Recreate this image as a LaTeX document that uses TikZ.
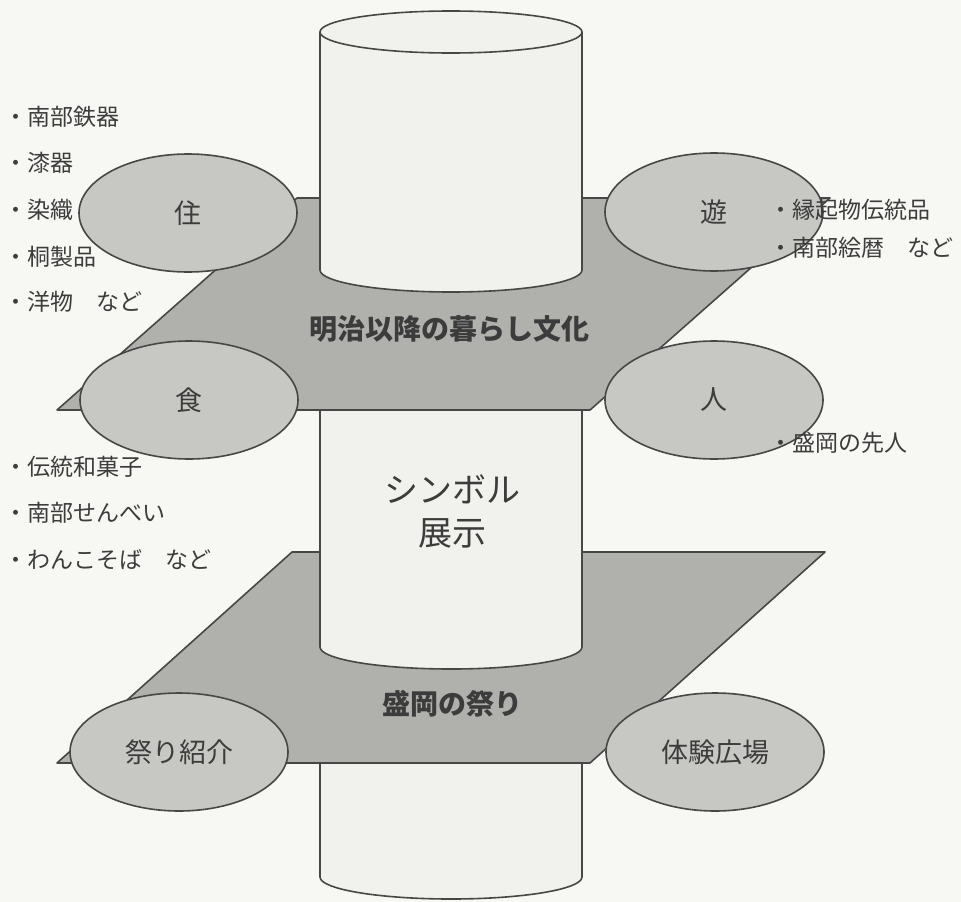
\documentclass[tikz,border=0pt]{standalone}
\usepackage{fontspec}
\setmainfont{Noto Sans CJK JP}
\usetikzlibrary{shapes.geometric}
\definecolor{bg}{HTML}{F7F7F3}
\definecolor{planecol}{HTML}{B0B0AC}
\definecolor{ovalcol}{HTML}{C7C7C3}
\definecolor{cylcol}{HTML}{F1F1ED}
\definecolor{ink}{HTML}{474747}
\definecolor{txt}{HTML}{3C3C3C}
\begin{document}
\begin{tikzpicture}[x=1pt,y=-1pt,
  edge/.style={draw=ink,line width=1.6pt,line join=round},
  planebox/.style={edge,fill=planecol},
  topic/.style={ellipse,draw=ink,line width=1.6pt,fill=ovalcol,minimum width=218pt,minimum height=118pt,inner sep=0pt,font=\fontsize{27}{30}\selectfont,text=txt},
  item/.style={anchor=west,inner sep=0pt,font=\fontsize{23}{25}\selectfont,text=txt},
  title/.style={inner sep=0pt,font=\fontsize{28}{32}\selectfont\bfseries,text=txt},
  bigtitle/.style={inner sep=0pt,align=center,font=\fontsize{34}{43}\selectfont,text=txt}]
\fill[bg] (0,0) rectangle (961,902);
\useasboundingbox (0,0) rectangle (961,902);
% bottom cylinder piece
\fill[cylcol] (320,740) -- (320,877) arc[start angle=180,end angle=0,x radius=131,y radius=22] -- (582,740) -- cycle;
\draw[edge] (320,740) -- (320,877) arc[start angle=180,end angle=0,x radius=131,y radius=22] -- (582,740);
% lower plane
\draw[planebox] (57,763) -- (590,763) -- (825,552) -- (292,552) -- cycle;
% middle cylinder piece
\fill[cylcol] (320,400) -- (320,647) arc[start angle=180,end angle=0,x radius=131,y radius=22] -- (582,400) -- cycle;
\draw[edge] (320,400) -- (320,647) arc[start angle=180,end angle=0,x radius=131,y radius=22] -- (582,400);
% upper plane
\draw[planebox] (57,410) -- (590,410) -- (830,198) -- (297,198) -- cycle;
% upper cylinder piece
\fill[cylcol] (320,32) -- (320,270) arc[start angle=180,end angle=0,x radius=131,y radius=22] -- (582,32) -- cycle;
\draw[edge] (320,32) -- (320,270) arc[start angle=180,end angle=0,x radius=131,y radius=22] -- (582,32);
\draw[edge,fill=cylcol] (451,32) ellipse[x radius=131,y radius=21];
% plane and cylinder labels
\node[title] (meiji) at (449,329) {明治以降の暮らし文化};
\node[title] (morioka) at (452,704) {盛岡の祭り};
\node[bigtitle] (symbol) at (452,511) {シンボル\\展示};
% topic ellipses
\node[topic] (zhu) at (188,213) {住};
\node[topic] (you) at (714,212) {遊};
\node[topic] (shoku) at (189,400) {食};
\node[topic] (hito) at (714,400) {人};
\node[topic] (matsuri) at (179,752) {祭り紹介};
\node[topic] (taiken) at (715,752) {体験広場};
% lists
\node[item] (l1) at (4,117) {・南部鉄器};
\node[item] (l2) at (4,163) {・漆器};
\node[item] (l3) at (4,210) {・染織};
\node[item] (l4) at (4,257) {・桐製品};
\node[item] (l5) at (4,302) {・洋物\quad など};
\node[item] (r1) at (769,210) {・縁起物伝統品};
\node[item] (r2) at (769,248) {・南部絵暦\quad など};
\node[item] (r3) at (769,443) {・盛岡の先人};
\node[item] (f1) at (4,467) {・伝統和菓子};
\node[item] (f2) at (4,513) {・南部せんべい};
\node[item] (f3) at (4,560) {・わんこそば\quad など};
\end{tikzpicture}
\end{document}
